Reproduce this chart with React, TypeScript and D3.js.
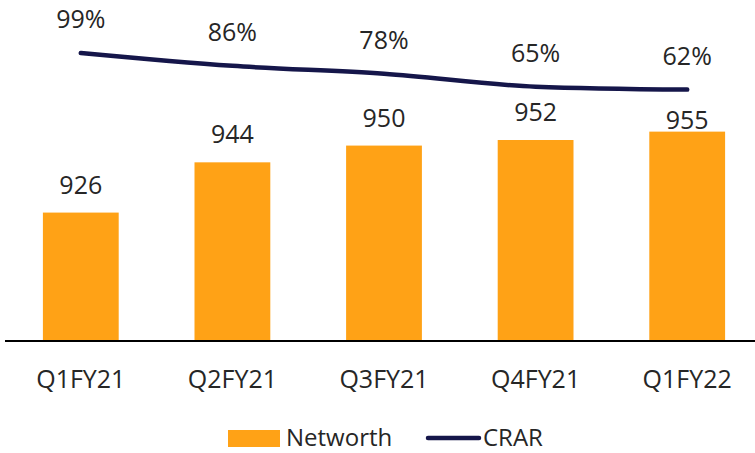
import React from "react";
import * as d3 from "d3";

const quarters = ["Q1FY21", "Q2FY21", "Q3FY21", "Q4FY21", "Q1FY22"];
const networth = [926, 944, 950, 952, 955];
const crar = [99, 86, 78, 65, 62];

const W = 755;
const H = 453;
const FONT = "'Open Sans', sans-serif";
const TEXT = "#262626";
const ORANGE = "#FFA216";
const NAVY = "#15164A";

const App = () => {
  const baseline = 341;

  const x = d3.scaleBand<string>().domain(quarters).range([5, 763]).paddingInner(0.5).paddingOuter(0.25);
  // bars sit on a cut-off axis (min 880)
  const yBar = d3.scaleLinear().domain([880, 1000]).range([baseline, 6]);
  // secondary axis for CRAR %
  const yLine = d3.scaleLinear().domain([0, 100]).range([151, 52]);

  const cx = (q: string) => (x(q) ?? 0) + x.bandwidth() / 2;

  const line = d3
    .line<number>()
    .curve(d3.curveMonotoneX)
    .x((_, i) => cx(quarters[i]))
    .y((d) => yLine(d));

  return (
    <svg
      width={W}
      height={H}
      style={{ position: "absolute", left: 0, top: 0, background: "#fff" }}
      fontFamily={FONT}
    >
      {/* bars */}
      {networth.map((v, i) => (
        <rect
          key={quarters[i]}
          x={x(quarters[i])}
          y={yBar(v)}
          width={x.bandwidth()}
          height={baseline - yBar(v)}
          fill={ORANGE}
        />
      ))}
      {/* bar labels, last one nudged down like the source */}
      {networth.map((v, i) => (
        <text
          key={"nl" + i}
          x={cx(quarters[i])}
          y={yBar(v) - (i === networth.length - 1 ? 3 : 19)}
          textAnchor="middle"
          fontSize={25}
          fill={TEXT}
        >
          {v}
        </text>
      ))}

      {/* axis line */}
      <line x1={5} x2={W} y1={baseline} y2={baseline} stroke="#000" strokeWidth={2} />
      {quarters.map((q) => (
        <text key={q} x={cx(q)} y={388} textAnchor="middle" fontSize={25} fill={TEXT}>
          {q}
        </text>
      ))}

      {/* CRAR line */}
      <path d={line(crar) ?? ""} fill="none" stroke={NAVY} strokeWidth={4.5} strokeLinecap="round" strokeLinejoin="round" />
      {crar.map((v, i) => (
        <text key={"cl" + i} x={cx(quarters[i])} y={yLine(v) - 25} textAnchor="middle" fontSize={25} fill={TEXT}>
          {v}%
        </text>
      ))}

      {/* legend */}
      <rect x={228} y={430} width={52} height={17} fill={ORANGE} />
      <text x={286} y={446} fontSize={24} fill={TEXT}>
        Networth
      </text>
      <line x1={428} x2={479} y1={438} y2={438} stroke={NAVY} strokeWidth={4.5} strokeLinecap="round" />
      <text x={483} y={446} fontSize={24} fill={TEXT}>
        CRAR
      </text>
    </svg>
  );
};

export default App;
